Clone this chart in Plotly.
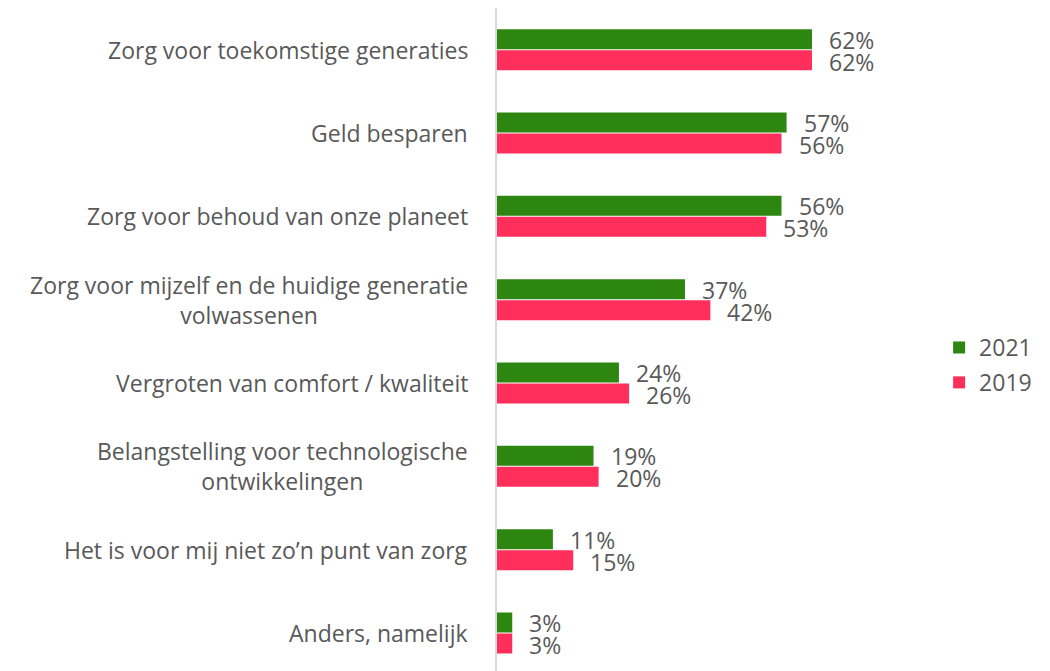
import plotly.graph_objects as go

categories = [
    "Zorg voor toekomstige generaties",
    "Geld besparen",
    "Zorg voor behoud van onze planeet",
    "Zorg voor mijzelf en de huidige generatie<br>volwassenen",
    "Vergroten van comfort / kwaliteit",
    "Belangstelling voor technologische<br>ontwikkelingen",
    "Het is voor mij niet zo’n punt van zorg",
    "Anders, namelijk",
]
values_2021 = [62, 57, 56, 37, 24, 19, 11, 3]
values_2019 = [62, 56, 53, 42, 26, 20, 15, 3]
series_names = ["2021", "2019"]
series_colors = ["#2D8610", "#FF2E5B"]

FONT = "Open Sans"
TXT = "#595959"

fig = go.Figure()
for name, vals, col in zip(series_names, [values_2021, values_2019], series_colors):
    fig.add_trace(go.Bar(
        y=categories, x=vals, orientation="h", name=name, legendgroup=name,
        marker=dict(color=col, line=dict(width=0)),
    ))

annotations = []
# category labels (centered multi-line, right anchored)
for c in categories:
    annotations.append(dict(
        x=0, xref="paper", y=c, yref="y", text=c, showarrow=False,
        xanchor="right", yanchor="middle", align="center", xshift=-27,
        font=dict(family=FONT, size=23, color=TXT),
    ))
# value labels
for vals, ys in [(values_2021, 10), (values_2019, -12)]:
    for c, v in zip(categories, vals):
        annotations.append(dict(
            x=v, xref="x", y=c, yref="y", text=f"{v}%", showarrow=False,
            xanchor="left", yanchor="middle", xshift=15, yshift=ys,
            font=dict(family=FONT, size=23, color=TXT),
        ))

fig.update_layout(
    width=1042, height=663,
    margin=dict(l=489, r=110, t=0, b=0),
    paper_bgcolor="white", plot_bgcolor="white",
    barmode="group", bargap=0.496, bargroupgap=0.048,
    showlegend=True,
    legend=dict(x=0.998, xanchor="left", y=0.4615, yanchor="middle",
                font=dict(family=FONT, size=23, color=TXT),
                tracegroupgap=2, bgcolor="rgba(0,0,0,0)"),
    annotations=annotations,
    font=dict(family=FONT, color=TXT),
)
fig.update_xaxes(range=[0, 87.2], showgrid=False, zeroline=False,
                 showticklabels=False, ticks="", showline=False)
fig.update_yaxes(range=[7.456, -0.5], showticklabels=False, ticks="",
                 showgrid=False, zeroline=False, showline=True,
                 linecolor="#D9D9D9", linewidth=2)

fig.write_html("out.html")
